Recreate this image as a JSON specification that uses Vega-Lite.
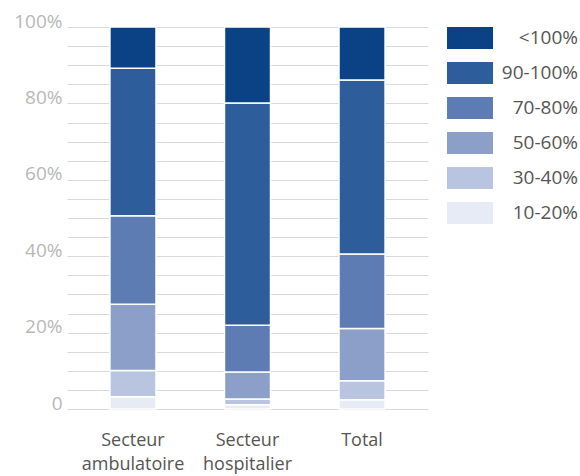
{
  "$schema": "https://vega.github.io/schema/vega-lite/v6.json",
  "width": 361,
  "height": 382,
  "autosize": {"type": "none"},
  "padding": {"left": 67, "top": 27, "right": 152, "bottom": 67},
  "background": "white",
  "config": {"font": "Open Sans", "view": {"stroke": null}},
  "data": {
    "values": [
      {"secteur": "Secteur ambulatoire", "classe": "10-20%", "ordre": 1, "part": 3.2},
      {"secteur": "Secteur ambulatoire", "classe": "30-40%", "ordre": 2, "part": 6.9},
      {"secteur": "Secteur ambulatoire", "classe": "50-60%", "ordre": 3, "part": 17.3},
      {"secteur": "Secteur ambulatoire", "classe": "70-80%", "ordre": 4, "part": 23.2},
      {"secteur": "Secteur ambulatoire", "classe": "90-100%", "ordre": 5, "part": 38.6},
      {"secteur": "Secteur ambulatoire", "classe": "<100%", "ordre": 6, "part": 10.8},
      {"secteur": "Secteur hospitalier", "classe": "10-20%", "ordre": 1, "part": 1.1},
      {"secteur": "Secteur hospitalier", "classe": "30-40%", "ordre": 2, "part": 1.5},
      {"secteur": "Secteur hospitalier", "classe": "50-60%", "ordre": 3, "part": 7.1},
      {"secteur": "Secteur hospitalier", "classe": "70-80%", "ordre": 4, "part": 12.2},
      {"secteur": "Secteur hospitalier", "classe": "90-100%", "ordre": 5, "part": 58.2},
      {"secteur": "Secteur hospitalier", "classe": "<100%", "ordre": 6, "part": 19.9},
      {"secteur": "Total", "classe": "10-20%", "ordre": 1, "part": 2.4},
      {"secteur": "Total", "classe": "30-40%", "ordre": 2, "part": 5.0},
      {"secteur": "Total", "classe": "50-60%", "ordre": 3, "part": 13.7},
      {"secteur": "Total", "classe": "70-80%", "ordre": 4, "part": 19.5},
      {"secteur": "Total", "classe": "90-100%", "ordre": 5, "part": 45.5},
      {"secteur": "Total", "classe": "<100%", "ordre": 6, "part": 13.9}
    ]
  },
  "mark": {"type": "bar", "stroke": "white", "strokeWidth": 1.5},
  "encoding": {
    "x": {
      "field": "secteur",
      "type": "nominal",
      "sort": null,
      "scale": {"paddingInner": 0.598, "paddingOuter": 0.375},
      "axis": {
        "title": null,
        "labelAngle": 0,
        "domain": false,
        "ticks": false,
        "labelFont": "Open Sans",
        "labelFontSize": 18,
        "labelColor": "#555555",
        "labelPadding": 22,
        "labelLineHeight": 24,
        "labelExpr": "split(datum.label, ' ')"
      }
    },
    "y": {
      "field": "part",
      "type": "quantitative",
      "stack": "zero",
      "scale": {"domain": [0, 100], "nice": false},
      "axis": {
        "title": null,
        "values": [0, 5, 10, 15, 20, 25, 30, 35, 40, 45, 50, 55, 60, 65, 70, 75, 80, 85, 90, 95, 100],
        "labelExpr": "datum.value % 20 == 0 ? (datum.value == 0 ? '0' : datum.value + '%') : ''",
        "domain": false,
        "ticks": false,
        "grid": true,
        "gridColor": "#d9d9d9",
        "gridWidth": 1,
        "labelFont": "Open Sans",
        "labelFontSize": 19,
        "labelColor": "#b8b8b8",
        "labelPadding": 5,
        "labelBaseline": "alphabetic"
      }
    },
    "color": {
      "field": "classe",
      "type": "nominal",
      "scale": {
        "domain": ["<100%", "90-100%", "70-80%", "50-60%", "30-40%", "10-20%"],
        "range": ["#0a4285", "#2e5d9b", "#5d7cb3", "#8c9fc9", "#b8c4e0", "#e6ebf5"]
      },
      "legend": {
        "title": null,
        "orient": "none",
        "legendX": 380,
        "legendY": -12,
        "padding": 0,
        "symbolType": "M-1,-0.478H1V0.478H-1Z",
        "symbolSize": 2116,
        "symbolStrokeWidth": 0,
        "symbolOpacity": 1,
        "labelFont": "Open Sans",
        "labelFontSize": 19,
        "labelColor": "#555555",
        "labelAlign": "right",
        "labelOffset": 85,
        "labelLimit": 200,
        "rowPadding": 1
      }
    },
    "order": {"field": "ordre", "type": "quantitative"}
  }
}
